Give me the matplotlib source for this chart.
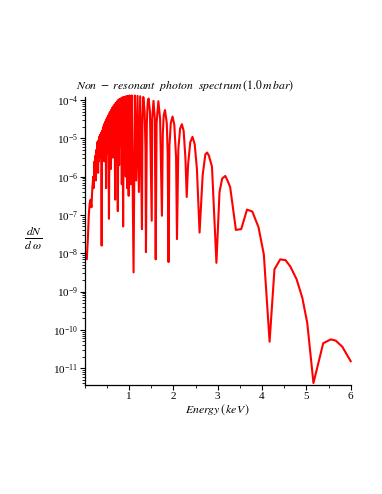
"""
Non-resonant photon spectrum (1.0 mbar), Maple-style log plot.
"""

import numpy as np
import matplotlib.pyplot as plt
from matplotlib.ticker import FixedLocator, LogLocator, MultipleLocator, NullFormatter

# photon energy (keV) and log10 of dN/dw
energy = [
    0.045, 0.07, 0.09, 0.11, 0.13, 0.15, 0.17, 0.19, 0.20, 0.22,
    0.23, 0.24, 0.25, 0.26, 0.27, 0.28,
    0.30, 0.31, 0.32, 0.33, 0.34, 0.35, 0.36, 0.37, 0.38, 0.39,
    0.40, 0.41, 0.42, 0.43, 0.44, 0.45, 0.46, 0.47, 0.48, 0.49,
    0.50, 0.51, 0.52, 0.53, 0.545, 0.56, 0.57, 0.58, 0.59, 0.60,
    0.61, 0.62, 0.63, 0.64,
    0.655, 0.67, 0.685, 0.70, 0.715, 0.73, 0.745, 0.76, 0.775, 0.79,
    0.805, 0.82, 0.835, 0.85, 0.865, 0.88, 0.895, 0.91, 0.925, 0.94,
    0.955, 0.97, 0.99, 1.01, 1.035, 1.06, 1.10, 1.13, 1.16, 1.19,
    1.22, 1.25, 1.29,
    1.30, 1.32, 1.35, 1.37, 1.38,
    1.40, 1.42, 1.44, 1.47, 1.51,
    1.52, 1.55, 1.58, 1.60,
    1.62, 1.66, 1.70, 1.74,
    1.76, 1.78, 1.81, 1.85, 1.87, 1.89,
    1.91, 1.94, 1.98, 2.02, 2.06, 2.08,
    2.11, 2.15, 2.19, 2.23, 2.27, 2.30,
    2.33, 2.38, 2.43, 2.48, 2.53, 2.59,
    2.66, 2.72, 2.76, 2.80, 2.87, 2.97,
    3.04, 3.10, 3.17, 3.22, 3.28, 3.41, 3.53, 3.66, 3.78, 3.92,
    4.04, 4.17, 4.28, 4.41, 4.53, 4.64, 4.78, 4.91, 5.02, 5.16,
    5.38, 5.55, 5.66, 5.81, 6.00,
]
log_dn = [
    -8.15, -7.6, -7.0, -6.7, -6.6, -6.8, -6.3, -6.0, -6.3, -5.6,
    -6.0, -5.45, -6.1, -5.3, -5.7, -5.1,
    -5.9, -5.05, -5.6, -4.95, -5.3, -4.9, -5.5, -4.85, -7.8, -4.8,
    -5.2, -4.72, -5.0, -4.66, -5.6, -4.6, -5.1, -4.55, -6.3, -4.5,
    -5.0, -4.45, -5.4, -4.4, -7.1, -4.33, -4.8, -4.3, -5.8, -4.25,
    -4.8, -4.2, -5.5, -4.17,
    -4.9, -4.12, -6.6, -4.07, -5.6, -4.03, -6.9, -3.99, -5.7, -3.97,
    -5.2, -3.95, -6.2, -3.93, -7.3, -3.92, -5.3, -3.91, -6.0, -3.9,
    -6.3, -3.89, -6.5, -3.88, -6.2, -3.88, -8.5, -3.88, -6.1, -3.89,
    -6.4, -3.9, -7.37,
    -4.6, -3.92, -4.3, -5.3, -7.97,
    -4.6, -4.05, -3.96, -4.3, -7.15,
    -4.5, -4.02, -4.5, -8.16,
    -4.6, -4.03, -4.5, -7.02,
    -4.9, -4.4, -4.26, -4.6, -5.4, -8.23,
    -5.2, -4.6, -4.43, -4.65, -5.5, -7.63,
    -5.3, -4.75, -4.63, -4.8, -5.5, -6.53,
    -5.7, -5.1, -4.96, -5.15, -5.8, -7.46,
    -5.96, -5.42, -5.37, -5.45, -5.74, -8.25,
    -6.40, -6.05, -5.98, -6.1, -6.27, -7.39, -7.37, -6.86, -6.91, -7.32,
    -8.03, -10.31, -8.42, -8.16, -8.18, -8.35, -8.68, -9.17, -9.82, -11.39,
    -10.35, -10.25, -10.28, -10.44, -10.82,
]
x_ticks = [1, 2, 3, 4, 5, 6]

plt.rcParams['mathtext.fontset'] = 'stix'
plt.rcParams['font.family'] = ['Liberation Serif', 'DejaVu Serif']

fig = plt.figure(figsize=(3.82, 4.94), dpi=100)
ax = fig.add_axes([0.222, 0.2207, 0.696, 0.5829])

ax.plot(energy, 10.0 ** np.array(log_dn), color='#ff0000', lw=1.5,
        solid_joinstyle='round', clip_on=False)
ax.set_yscale('log')
ax.set_xlim(0, 6)
ax.set_ylim(10 ** -11.44, 10 ** -3.92)

for side in ('top', 'right'):
    ax.spines[side].set_visible(False)
for side in ('left', 'bottom'):
    ax.spines[side].set_linewidth(0.9)

ax.xaxis.set_major_locator(FixedLocator(x_ticks))
ax.xaxis.set_minor_locator(MultipleLocator(0.5))
ax.yaxis.set_major_locator(LogLocator(base=10, numticks=20))
ax.yaxis.set_minor_locator(LogLocator(base=10, subs=np.arange(2, 10), numticks=20))
ax.yaxis.set_minor_formatter(NullFormatter())
ax.tick_params(which='major', length=3.5, width=0.8, labelsize=8, pad=1.5)
ax.tick_params(which='minor', length=2.5, width=0.6)

fig.text(0.485, 0.826,
         r'$Non\ -\ resonant\ \ photon\ \ spectrum\,\left(1.0\,m\,bar\right)$',
         ha='center', va='center', fontsize=8.5)
fig.text(0.57, 0.17, r'$Energy\,\left(\,keV\,\right)$',
         ha='center', va='center', fontsize=8.5)
fig.text(0.088, 0.518, r'$\frac{dN}{d\ \omega}$',
         ha='center', va='center', fontsize=12)

fig.savefig('out.png', dpi=100)
